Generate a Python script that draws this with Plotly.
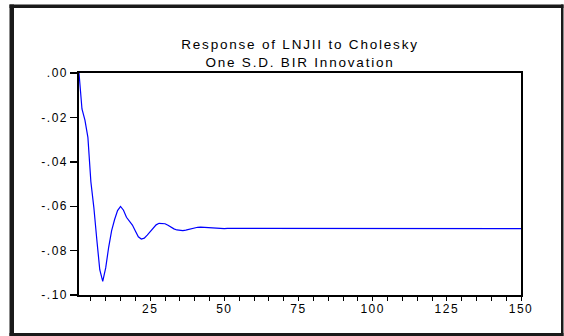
import plotly.graph_objects as go

# ---------------- data ----------------
title_lines = ["Response of LNJII to Cholesky", "One S.D. BIR Innovation"]

periods = list(range(1, 151))

response = [
    0.0000, -0.0162, -0.0212, -0.0290, -0.0490, -0.0605, -0.0750, -0.0886, -0.0939, -0.0878,
    -0.0785, -0.0710, -0.0660, -0.0620, -0.0601, -0.0618, -0.0650, -0.0668, -0.0685, -0.0712,
    -0.0738, -0.0748, -0.0744, -0.0730, -0.0715, -0.0698, -0.0684, -0.0677, -0.0677, -0.0679,
    -0.0686, -0.0695, -0.0702, -0.0707, -0.0709, -0.0710, -0.0708, -0.0704, -0.0700, -0.0697,
    -0.0695, -0.0694, -0.0695, -0.0696, -0.0698, -0.0699, -0.0700, -0.0701, -0.0701, -0.0701,
    -0.0700, -0.0700, -0.0699, -0.0699, -0.0700, -0.0700, -0.0700, -0.0701, -0.0701, -0.0701,
    -0.0701, -0.0701, -0.0701, -0.0701, -0.0701, -0.0701, -0.0701, -0.0701, -0.0701, -0.0701,
    -0.0701, -0.0701, -0.0701, -0.0701, -0.0701, -0.0701, -0.0701, -0.0701, -0.0701, -0.0701,
    -0.0701, -0.0701, -0.0701, -0.0701, -0.0701, -0.0701, -0.0701, -0.0701, -0.0701, -0.0701,
    -0.0701, -0.0701, -0.0701, -0.0701, -0.0701, -0.0701, -0.0701, -0.0701, -0.0701, -0.0701,
    -0.0701, -0.0701, -0.0701, -0.0701, -0.0701, -0.0701, -0.0701, -0.0701, -0.0701, -0.0701,
    -0.0701, -0.0701, -0.0701, -0.0701, -0.0701, -0.0701, -0.0701, -0.0701, -0.0701, -0.0701,
    -0.0701, -0.0701, -0.0701, -0.0701, -0.0701, -0.0701, -0.0701, -0.0701, -0.0701, -0.0701,
    -0.0701, -0.0701, -0.0701, -0.0701, -0.0701, -0.0701, -0.0701, -0.0701, -0.0701, -0.0701,
    -0.0701, -0.0701, -0.0701, -0.0701, -0.0701, -0.0701, -0.0701, -0.0701, -0.0701, -0.0701,
]

x_tickvals = [25, 50, 75, 100, 125, 150]
x_ticktext = ["25", "50", "75", "100", "125", "150"]
y_tickvals = [0.00, -0.02, -0.04, -0.06, -0.08, -0.10]
y_ticktext = [".00", "-.02", "-.04", "-.06", "-.08", "-.10"]

# ---------------- layout geometry ----------------
W, H = 564, 336
ML, MR, MT, MB = 79, 43, 73, 41
PW, PH = W - ML - MR, H - MT - MB


def px2x(px):
    return (px - ML) / PW


def px2y(py):
    return 1 - (py - MT) / PH


FONT = "Liberation Sans, Arial, sans-serif"

fig = go.Figure()
fig.add_trace(go.Scatter(
    x=periods, y=response, mode="lines",
    line=dict(color="#0000ff", width=1.2),
    showlegend=False, hoverinfo="skip",
))

# outer frame of the picture
frame_color = "#1a1a1a"
frame = [
    (9.5, 4.5, 14.0, 336.0),    # left (thick)
    (9.5, 4.5, 563.5, 8.0),     # top
    (561.0, 4.5, 563.5, 336.0), # right
    (9.5, 333.0, 563.5, 336.0), # bottom
]
for x0, y0, x1, y1 in frame:
    fig.add_shape(type="rect", xref="paper", yref="paper",
                  x0=px2x(x0), x1=px2x(x1), y0=px2y(y0), y1=px2y(y1),
                  fillcolor=frame_color, line=dict(width=0), layer="above")

fig.update_layout(
    width=W, height=H,
    margin=dict(l=ML, r=MR, t=MT, b=MB, autoexpand=False),
    paper_bgcolor="white", plot_bgcolor="white",
    font=dict(family=FONT, size=12, color="black"),
    title=dict(
        text="<br>".join(title_lines),
        font=dict(family=FONT, size=13.5, color="black"),
        x=0.5, xref="paper", xanchor="center",
        y=1 - 49 / H, yref="container", yanchor="middle",
    ),
    xaxis=dict(
        range=[1, 150], tickvals=x_tickvals, ticktext=x_ticktext,
        ticks="outside", ticklen=4, tickwidth=1, tickcolor="black",
        minor=dict(dtick=5, tick0=0, ticks="outside", ticklen=4, tickwidth=1, tickcolor="black"),
        showline=True, linewidth=1.6, linecolor="black", mirror=True,
        showgrid=False, zeroline=False,
        tickfont=dict(family=FONT, size=12, color="black"),
        ticklabelstandoff=-2,
        fixedrange=True,
    ),
    yaxis=dict(
        range=[-0.10, 0.00], tickvals=y_tickvals, ticktext=y_ticktext,
        ticks="outside", ticklen=7, tickwidth=1.4, tickcolor="black",
        showline=True, linewidth=1.6, linecolor="black", mirror=True,
        showgrid=False, zeroline=False,
        tickfont=dict(family=FONT, size=12, color="black"),
        fixedrange=True,
    ),
)

post_script = """
document.documentElement.style.margin = '0';
document.body.style.margin = '0';
document.body.style.padding = '0';
var gd = document.getElementById('{plot_id}');
function spaceText(){
  gd.querySelectorAll('.gtitle').forEach(function(e){ e.style.letterSpacing = '1.8px'; });
  gd.querySelectorAll('.xtick text, .ytick text').forEach(function(e){ e.style.letterSpacing = '1.5px'; });
}
spaceText();
if (gd.on) { gd.on('plotly_afterplot', spaceText); }
"""

fig.write_html("out.html", post_script=post_script,
               config={"displayModeBar": False, "staticPlot": True})
